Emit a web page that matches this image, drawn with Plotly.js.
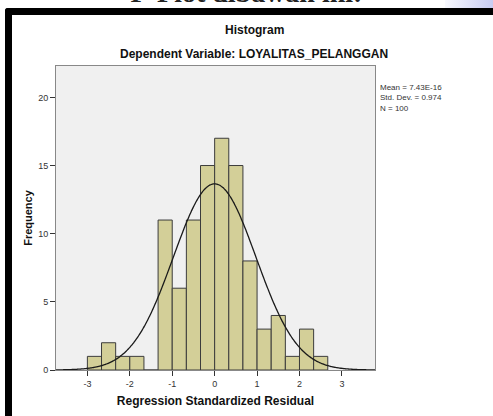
<!DOCTYPE html>
<html>
<head>
<meta charset="utf-8">
<script src="https://cdn.plot.ly/plotly-3.0.1.min.js"></script>
<style>
html,body{margin:0;padding:0;background:#fff;width:493px;height:416px;overflow:hidden;}
#chart{position:absolute;left:0;top:0;width:493px;height:416px;}
.frame{position:absolute;background:#000;pointer-events:none;}
#clip{position:absolute;left:0;top:0;width:493px;height:8px;overflow:hidden;}
#cut{position:absolute;left:0;width:493px;top:-23px;text-align:center;font:bold 28px "Liberation Serif",serif;color:#222;}
#grad{position:absolute;left:445px;top:0;width:48px;height:8px;background:linear-gradient(90deg,rgba(220,225,250,0.2),#c8ccf2);}
</style>
</head>
<body>
<div id="chart"></div>
<div id="clip"><div id="cut">P-Plot dibawah ini:</div></div>
<div id="grad"></div>
<div class="frame" style="left:5px;top:8px;width:488px;height:7px;border-top-left-radius:3px;"></div>
<div class="frame" style="left:5px;top:8px;width:7px;height:408px;border-top-left-radius:3px;"></div>
<script>
// Data
const binStart = -3;
const binWidth = 1/3;
const counts = [1, 2, 1, 1, 0, 11, 6, 11, 15, 17, 15, 8, 3, 4, 1, 3, 1];
const statMean = 7.43e-16;
const statSD = 0.974;
const statN = 100;
const xTickVals = [-3, -2, -1, 0, 1, 2, 3];
const yTickVals = [0, 5, 10, 15, 20];

const binCenters = counts.map((c, i) => binStart + binWidth * (i + 0.5));

// fitted normal curve from stated mean / sd / N
const xr = [-3.74, 3.78];
const cx = [], cy = [];
for (let k = 0; k <= 300; k++) {
  const x = xr[0] + (xr[1] - xr[0]) * k / 300;
  const z = (x - statMean) / statSD;
  cx.push(x);
  cy.push(statN * binWidth * Math.exp(-0.5 * z * z) / (statSD * Math.sqrt(2 * Math.PI)));
}

const font = "Liberation Sans, Arial, sans-serif";
const traces = [
  {type: 'bar', x: binCenters, y: counts, width: binWidth,
   marker: {color: '#d3cf98', line: {color: '#3c3c3c', width: 1}},
   hoverinfo: 'skip'},
  {type: 'scatter', mode: 'lines', x: cx, y: cy,
   line: {color: '#1a1a1a', width: 1.3, shape: 'spline'}, hoverinfo: 'skip'}
];

const layout = {
  width: 493, height: 416,
  margin: {l: 56, r: 118, t: 66, b: 46},
  paper_bgcolor: '#ffffff', plot_bgcolor: '#f0f0f0',
  showlegend: false, bargap: 0,
  font: {family: font, size: 9, color: '#333'},
  xaxis: {range: xr, tickvals: xTickVals, ticktext: xTickVals.map(String),
    ticks: 'outside', ticklen: 5, tickcolor: '#333', showgrid: false, zeroline: false,
    showline: true, linecolor: '#888', linewidth: 1, mirror: true,
    tickfont: {family: font, size: 9, color: '#333'},
    title: {text: 'Regression Standardized Residual', font: {family: font, size: 12, color: '#111', weight: 'bold'}, standoff: 8}},
  yaxis: {range: [0, 22.3], tickvals: yTickVals, ticktext: yTickVals.map(String),
    ticks: 'outside', ticklen: 5, tickcolor: '#333', showgrid: false, zeroline: false,
    showline: true, linecolor: '#888', linewidth: 1, mirror: true,
    tickfont: {family: font, size: 9, color: '#333'},
    title: {text: 'Frequency', font: {family: font, size: 11, color: '#111', weight: 'bold'}, standoff: 3}},
  annotations: [
    {xref: 'paper', yref: 'paper', x: (254 - 56) / 319, y: 1 + (66 - 30) / 304, text: '<b>Histogram</b>',
     showarrow: false, xanchor: 'center', yanchor: 'middle', font: {family: font, size: 12, color: '#111'}},
    {xref: 'paper', yref: 'paper', x: (254 - 56) / 319, y: 1 + (66 - 54) / 304, text: '<b>Dependent Variable: LOYALITAS_PELANGGAN</b>',
     showarrow: false, xanchor: 'center', yanchor: 'middle', font: {family: font, size: 12, color: '#111'}},
    {xref: 'paper', yref: 'paper', x: (378 - 56) / 319, y: 1 - (81 - 66) / 304, align: 'left',
     text: 'Mean = 7.43E-16<br>Std. Dev. = 0.974<br>N = 100',
     showarrow: false, xanchor: 'left', yanchor: 'top', font: {family: font, size: 8, color: '#333'}}
  ]
};
Plotly.newPlot('chart', traces, layout, {displayModeBar: false, staticPlot: true});
</script>
</body>
</html>
